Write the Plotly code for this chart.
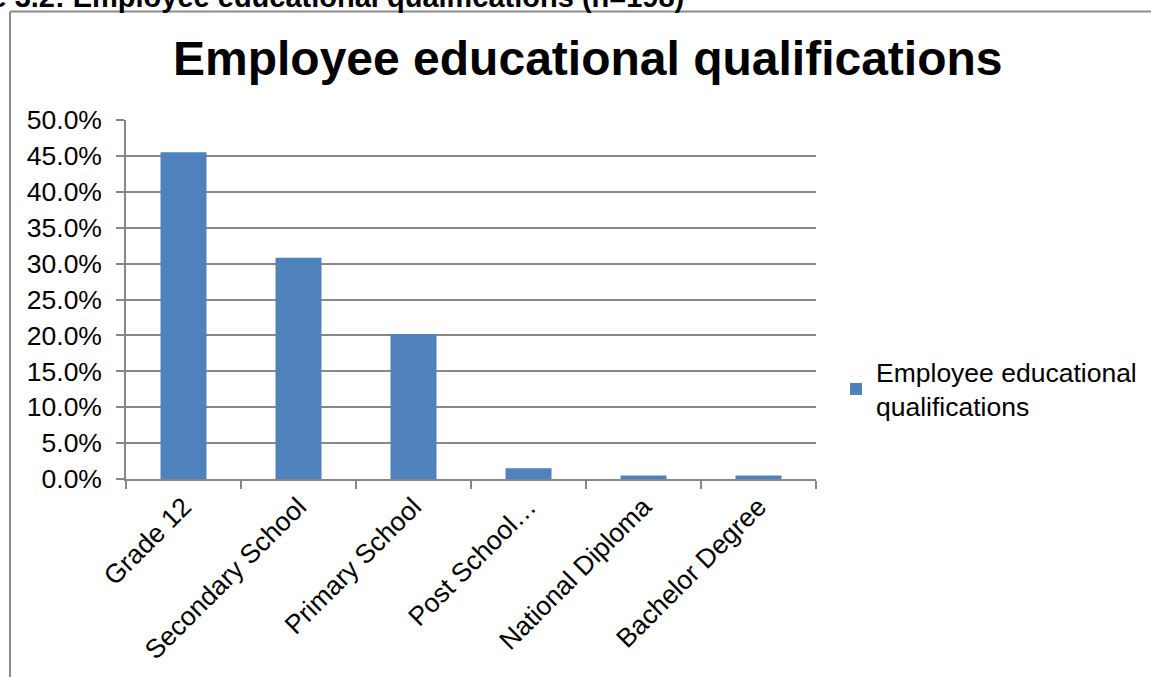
import plotly.graph_objects as go

# Share of employees by highest educational qualification (n=198)
categories = ["Grade 12", "Secondary School", "Primary School",
              "Post School…", "National Diploma", "Bachelor Degree"]
shares = [0.455, 0.308, 0.202, 0.015, 0.005, 0.005]
series_name = "Employee educational<br>qualifications"
chart_title = "Employee educational qualifications"
caption = "Figure 3.2: Employee educational qualifications (n=198)"

W, H = 1151, 677
ML, MR, MT, MB = 126, 335, 120, 198
PW, PH = W - ML - MR, H - MT - MB


def px(x):
    return (x - ML) / PW


def py(y):
    return (H - MB - y) / PH


FONT = "Liberation Sans, Arial, sans-serif"
GRID = "#878787"
BAR = "#4F81BD"
FS = 26.5

fig = go.Figure(
    go.Bar(
        x=categories,
        y=shares,
        name=series_name,
        marker=dict(color=BAR, line=dict(width=0)),
        width=0.4,
        showlegend=True,
    )
)

fig.update_layout(
    width=W,
    height=H,
    margin=dict(l=ML, r=MR, t=MT, b=MB, autoexpand=False),
    paper_bgcolor="white",
    plot_bgcolor="white",
    font=dict(family=FONT, color="black", size=FS),
    showlegend=True,
    legend=dict(
        x=px(836), y=py(389), xanchor="left", yanchor="middle",
        font=dict(size=FS, family=FONT),
        bgcolor="rgba(0,0,0,0)",
        itemsizing="constant",
    ),
    annotations=[
        dict(
            text="<b>" + chart_title + "</b>",
            xref="paper", yref="paper",
            x=px(587.5), y=py(59),
            xanchor="center", yanchor="middle",
            showarrow=False,
            font=dict(size=48, family=FONT, color="black"),
        ),
        dict(
            text="<b>" + caption + "</b>",
            xref="paper", yref="paper",
            x=px(686), y=py(-3),
            xanchor="right", yanchor="middle",
            showarrow=False,
            font=dict(size=29, family=FONT, color="black"),
        ),
    ],
    shapes=[
        # chart frame (left and top edges)
        dict(type="line", xref="paper", yref="paper",
             x0=px(10), x1=px(10), y0=py(11.5), y1=py(H + 10),
             line=dict(color="#8c8c8c", width=2)),
        dict(type="line", xref="paper", yref="paper",
             x0=px(10), x1=px(W + 10), y0=py(11.5), y1=py(11.5),
             line=dict(color="#8c8c8c", width=2)),
    ],
)

fig.update_xaxes(
    type="category",
    tickangle=-45,
    tickson="boundaries",
    ticks="outside",
    ticklen=8,
    tickwidth=1.5,
    tickcolor=GRID,
    showline=True,
    linecolor=GRID,
    linewidth=1.5,
    showgrid=False,
    tickfont=dict(size=FS, family=FONT),
)

fig.update_yaxes(
    range=[0, 0.5],
    dtick=0.05,
    tickformat=".1%",
    ticks="outside",
    ticklen=8,
    tickwidth=1.5,
    tickcolor=GRID,
    ticklabelstandoff=9,
    showline=True,
    linecolor=GRID,
    linewidth=1.5,
    showgrid=True,
    gridcolor=GRID,
    gridwidth=1.5,
    zeroline=False,
    tickfont=dict(size=FS, family=FONT),
)

fig.write_html("out.html")
